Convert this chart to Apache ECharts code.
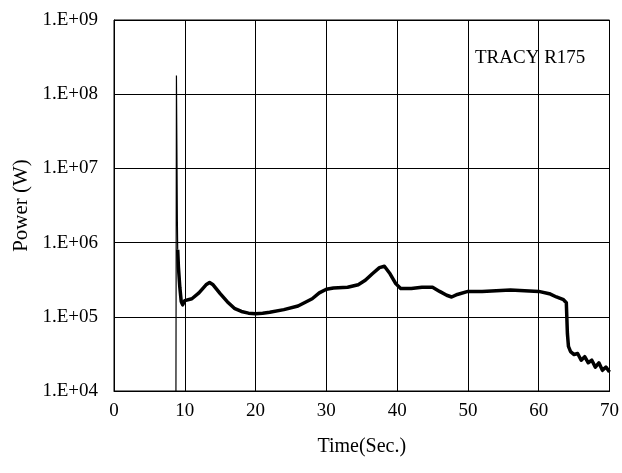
<!DOCTYPE html>
<html>
<head>
<meta charset="utf-8">
<script src="https://cdn.jsdelivr.net/npm/echarts@6/dist/echarts.min.js"></script>
<style>
  html, body { margin: 0; padding: 0; background: #fff; }
  #chart { width: 622px; height: 473px; }
</style>
</head>
<body>
<div id="chart"></div>
<script>
(function () {
  var font = "'Liberation Serif', 'Times New Roman', serif";
  var ink = '#000';

  // initial power burst (thin line)
  var spikeTime = [8.75, 8.82, 8.95, 9.0];
  var spikePower = [1.0e4, 1.78e8, 2.0e6, 8.0e5];

  // main trace after the burst
  var time = [9.0, 9.1, 9.3, 9.5, 9.7, 10.0, 11, 12, 13, 13.5, 14, 15, 16, 17, 18, 19, 20, 21, 22, 24, 26, 28, 29, 30, 31, 33,
    34.5, 35.5, 36.5, 37.5, 38.2, 39, 39.8, 40.5, 42, 43.5, 45, 46, 47, 47.7, 48.5, 50, 52, 54, 56, 58, 60, 61.5, 62.5, 63.5, 63.9,
    64.05, 64.2, 64.5, 65, 65.5, 66, 66.5, 67, 67.5, 68, 68.5, 69, 69.5, 70];
  var power = [8.0e5, 4.7e5, 2.5e5, 1.6e5, 1.45e5, 1.65e5, 1.75e5, 2.1e5, 2.7e5, 2.9e5, 2.7e5, 2.05e5, 1.6e5, 1.3e5, 1.18e5, 1.12e5, 1.1e5, 1.12e5, 1.15e5, 1.25e5, 1.4e5, 1.75e5, 2.1e5, 2.35e5, 2.45e5, 2.5e5,
    2.7e5, 3.1e5, 3.8e5, 4.6e5, 4.8e5, 3.8e5, 2.8e5, 2.4e5, 2.4e5, 2.5e5, 2.5e5, 2.2e5, 1.95e5, 1.85e5, 2.0e5, 2.2e5, 2.2e5, 2.25e5, 2.3e5, 2.25e5, 2.2e5, 2.05e5, 1.85e5, 1.7e5, 1.55e5,
    6.0e4, 4.0e4, 3.4e4, 3.1e4, 3.2e4, 2.6e4, 2.9e4, 2.4e4, 2.6e4, 2.1e4, 2.4e4, 1.9e4, 2.1e4, 1.8e4];

  var xTicks = [0, 10, 20, 30, 40, 50, 60, 70];

  function pairs(xs, ys) {
    return xs.map(function (x, i) { return [x, ys[i]]; });
  }

  var chart = echarts.init(document.getElementById('chart'), null, { renderer: 'canvas' });
  chart.setOption({
    animation: false,
    backgroundColor: '#fff',
    textStyle: { fontFamily: font, color: ink },
    title: {
      text: 'TRACY R175',
      left: 470, top: 44,
      textStyle: { fontFamily: font, fontSize: 19, fontWeight: 'normal', color: ink }
    },
    grid: {
      left: 114, right: 11, top: 20, bottom: 82,
      show: true, borderColor: ink, borderWidth: 1
    },
    xAxis: {
      type: 'value',
      min: xTicks[0], max: xTicks[xTicks.length - 1], interval: 10,
      name: 'Time(Sec.)',
      nameLocation: 'middle', nameGap: 46,
      nameTextStyle: { fontFamily: font, fontSize: 20, color: ink },
      axisLine: { lineStyle: { color: ink, width: 1 } },
      axisTick: { show: false },
      axisLabel: { fontFamily: font, fontSize: 19, color: ink, margin: 11 },
      splitLine: { show: true, lineStyle: { color: ink, width: 1 } }
    },
    yAxis: {
      type: 'log', logBase: 10,
      min: 1e4, max: 1e9, interval: 1,
      name: 'Power (W)',
      nameLocation: 'middle', nameGap: 82,
      nameTextStyle: { fontFamily: font, fontSize: 21, color: ink },
      axisLine: { show: true, lineStyle: { color: ink, width: 1 } },
      axisTick: { show: false },
      axisLabel: {
        fontFamily: font, fontSize: 19, color: ink, margin: 16,
        formatter: function (v) {
          var e = Math.round(Math.log10(v));
          return '1.E+' + (e < 10 ? '0' : '') + e;
        }
      },
      splitLine: { show: true, lineStyle: { color: ink, width: 1 } }
    },
    series: [
      {
        type: 'line', showSymbol: false, silent: true,
        data: pairs(spikeTime, spikePower),
        lineStyle: { color: ink, width: 1.2 }
      },
      {
        type: 'line', showSymbol: false, silent: true,
        data: pairs(time, power),
        lineStyle: { color: ink, width: 3.5, join: 'round' }
      }
    ]
  });
  window.addEventListener('resize', function () { chart.resize(); });
})();
</script>
</body>
</html>
